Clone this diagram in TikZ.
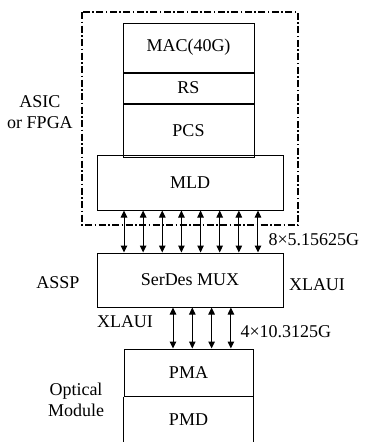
\documentclass[tikz,border=0pt]{standalone}
\usepackage{fontspec}
\setmainfont{Liberation Serif}
\usetikzlibrary{arrows.meta, positioning}

\begin{document}
\begin{tikzpicture}[
        x=1pt, y=-1pt,
        every node/.style={font=\rmfamily\fontsize{18}{21}\selectfont, align=center},
        layer/.style={draw, line width=1pt, inner sep=0pt, minimum width=#1},
        side/.style={align=center},
        dbl/.style={{Triangle[length=7pt,width=6.5pt]}-{Triangle[length=7pt,width=6.5pt]}, line width=1pt},
        frame/.style={line width=1.1pt, dash pattern=on 7pt off 2.5pt on 1.5pt off 2.5pt}
    ]
        \useasboundingbox (0,0) rectangle (365,442);

        % ASIC / FPGA
        \draw[frame] (82,12) rectangle (298,225);
        \node[layer=131pt, minimum height=49pt] (mac) at (188.5,47.5) {MAC(40G)};
        \node[layer=131pt, minimum height=30pt, below=0pt of mac] (rs) {RS};
        \node[layer=131pt, minimum height=53pt, below=0pt of rs] (pcs) {PCS};
        \node[layer=186pt, minimum height=55pt] (mld) at (190,182.5) {MLD};
        \node[side] (asic) at (40,112) {ASIC\\or FPGA};

        % ASSP
        \node[layer=186pt, minimum height=54pt] (mux) at (190,280) {SerDes MUX};
        \node[side] (assp) at (58,283) {ASSP};
        \node[side] (xr) at (317,285) {XLAUI};
        \foreach \i in {0,...,7}
            \draw[dbl] (mld.south -| {124+19.14*\i},0) -- (mux.north -| {124+19.14*\i},0);
        \node[anchor=west] (lane8) at (265,240) {8×5.15625G};

        % Optical Module
        \node[layer=129pt, minimum height=47pt] (pma) at (188.5,372.5) {PMA};
        \node[inner sep=0pt, minimum width=129pt, minimum height=46pt, below=0pt of pma] (pmd) {PMD};
        \draw[line width=1pt] (pmd.north west) -- (pmd.south west);
        \draw[line width=1pt] (pmd.north east) -- (pmd.south east);
        \node[side] (opt) at (76,400) {Optical\\Module};
        \foreach \i in {0,...,3}
            \draw[dbl] (mux.south -| {173+19.3*\i},0) -- (pma.north -| {173+19.3*\i},0);
        \node[side] (xl) at (125,322) {XLAUI};
        \node[anchor=west] (lane4) at (237,332) {4×10.3125G};
    \end{tikzpicture}
\end{document}
